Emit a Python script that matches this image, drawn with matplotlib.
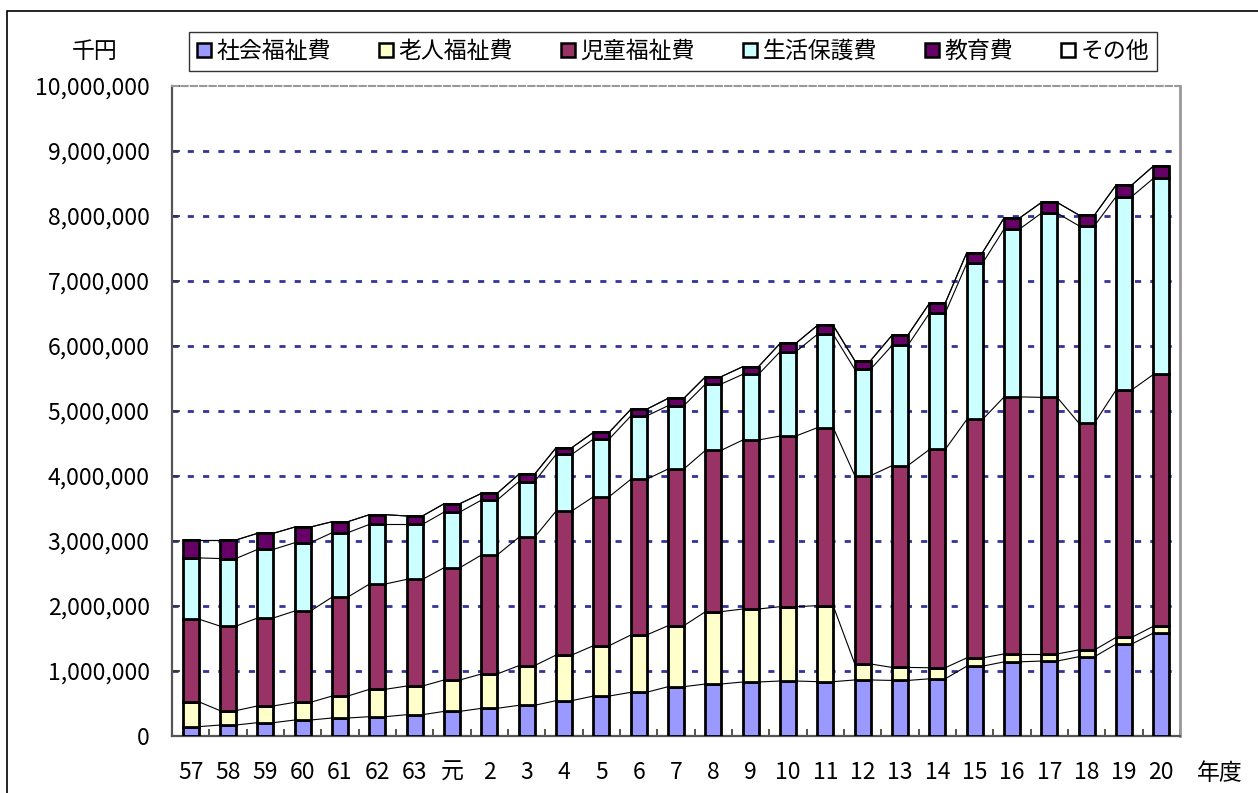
import matplotlib
matplotlib.use("Agg")
import matplotlib.pyplot as plt
import numpy as np
from matplotlib.patches import Rectangle, Patch
from matplotlib.ticker import FuncFormatter, FixedLocator

plt.rcParams['font.family'] = ['Noto Sans CJK JP', 'DejaVu Sans']

categories = ['57', '58', '59', '60', '61', '62', '63', '元', '2', '3', '4', '5', '6', '7',
              '8', '9', '10', '11', '12', '13', '14', '15', '16', '17', '18', '19', '20']
series_names = ['社会福祉費', '老人福祉費', '児童福祉費', '生活保護費', '教育費', 'その他']

# values in thousand-yen units (千円) / 1000
shakai = [143, 169, 205, 246, 277, 297, 328, 379, 426, 472, 544, 615, 672, 759, 800, 831,
          846, 836, 862, 855, 880, 1074, 1141, 1153, 1220, 1415, 1585]
roujin = [385, 221, 257, 272, 338, 421, 441, 483, 528, 610, 702, 775, 882, 938, 1113, 1123,
          1144, 1169, 246, 200, 170, 128, 122, 110, 104, 103, 104]
jidou = [1272, 1300, 1353, 1405, 1523, 1620, 1641, 1728, 1831, 1975, 2216, 2292, 2395, 2411,
         2482, 2600, 2625, 2739, 2897, 3105, 3358, 3668, 3954, 3947, 3491, 3808, 3874]
seikatsu = [940, 1040, 1055, 1051, 990, 918, 846, 856, 845, 856, 871, 887, 974, 974, 1020,
            1010, 1298, 1436, 1636, 1850, 2098, 2403, 2585, 2835, 3035, 2974, 3017]
kyouiku = [275, 285, 248, 241, 169, 149, 129, 128, 103, 113, 103, 103, 103, 113, 113, 118,
           128, 138, 133, 157, 152, 164, 170, 164, 165, 177, 189]
sonota = [0] * 27

colors = ['#9999FF', '#FFFFCC', '#993366', '#CCFFFF', '#660066', '#FFFFFF']
series = [shakai, roujin, jidou, seikatsu, kyouiku, sonota]

FS = 16.5

fig = plt.figure(figsize=(12.58, 7.93), dpi=100)
ax = fig.add_axes([172 / 1258, 1 - 736 / 793, (1180 - 172) / 1258, (736 - 86) / 793])

x = np.arange(len(categories))
w = 0.42
bottom = np.zeros(len(categories))
tops = []
for vals, c in zip(series, colors):
    v = np.array(vals, dtype=float) * 1000
    ax.bar(x, v, w, bottom=bottom, color=c, edgecolor='black', linewidth=2.0, zorder=3)
    bottom = bottom + v
    tops.append(bottom.copy())

# series lines
for t in tops:
    for i in range(len(x) - 1):
        ax.plot([x[i] + w / 2, x[i + 1] - w / 2], [t[i], t[i + 1]], color='black',
                linewidth=0.8, zorder=2)

ax.set_xlim(-0.5, len(categories) - 0.5)
ax.set_ylim(0, 10_000_000)

# gridlines
for gy in range(1_000_000, 10_000_000, 1_000_000):
    ax.axhline(gy, color='#333399', linewidth=2.0, linestyle=(0, (2.2, 3.3)), zorder=1)

ax.yaxis.set_major_locator(FixedLocator(np.arange(0, 10_000_001, 1_000_000)))
ax.yaxis.set_major_formatter(FuncFormatter(lambda v, p: f"{int(v):,}"))
ax.set_xticks(x)
ax.set_xticklabels(categories)
ax.xaxis.set_minor_locator(FixedLocator(np.arange(-0.5, len(categories), 1.0)))
ax.tick_params(axis='x', which='major', length=0, pad=18, labelsize=FS)
ax.tick_params(axis='x', which='minor', direction='in', length=5, width=1.2, color='#333333')
ax.tick_params(axis='y', which='major', direction='in', length=6, width=1.2, color='#333333',
               labelsize=FS, pad=16)

for s in ['left', 'bottom']:
    ax.spines[s].set_color('#555555')
    ax.spines[s].set_linewidth(1.6)
ax.spines['right'].set_color('#999999')
ax.spines['right'].set_linewidth(2)
ax.spines['top'].set_color('#999999')
ax.spines['top'].set_linewidth(1.5)
ax.spines['top'].set_linestyle((0, (3, 1.5)))

# unit labels
fig.text(95 / 1258, 1 - 51 / 793, '千円', ha='center', va='center', fontsize=FS)
fig.text(1220 / 1258, 1 - 773 / 793, '年度', ha='center', va='center', fontsize=FS)

# legend
handles = [Patch(facecolor=c, edgecolor='black', linewidth=1.8) for c in colors]
leg = fig.legend(handles, series_names, loc='center', ncol=6,
                 bbox_to_anchor=(673 / 1258, 1 - 51.5 / 793), fontsize=16.5,
                 frameon=True, fancybox=False, edgecolor='black', handlelength=0.6,
                 handleheight=0.6, handletextpad=0.25, columnspacing=2.1, borderpad=0.33,
                 borderaxespad=0)
leg.get_frame().set_linewidth(1.0)

# outer border
fig.patches.append(Rectangle((7 / 1258, -0.1), 1.2, 1 - 11 / 793 + 0.1,
                             transform=fig.transFigure, fill=False, edgecolor='black',
                             linewidth=1.2))

fig.savefig('out.png', dpi=100)
